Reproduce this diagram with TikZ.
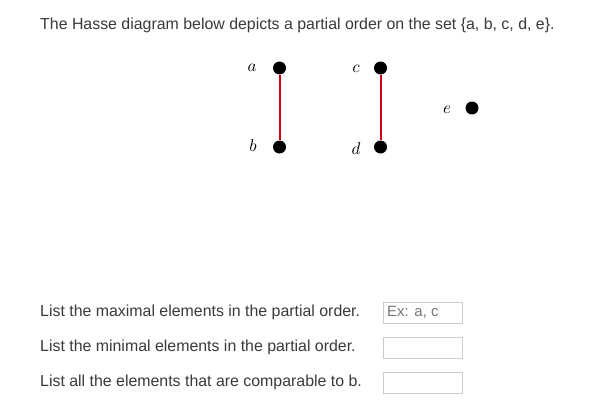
\documentclass[tikz,border=0pt]{standalone}
\usepackage{fontspec}
\setmainfont{Liberation Sans}
\definecolor{txt}{HTML}{3A3A3A}
\definecolor{edgered}{HTML}{D0021B}
\definecolor{boxgray}{HTML}{CCCCCC}
\definecolor{phgray}{HTML}{777777}
\newcommand{\vlab}[1]{\scalebox{1.7}{$#1$}}
\tikzset{
  vtx/.style={circle,fill=black,inner sep=0pt,minimum size=13pt},
  vlabel/.style={inner sep=0pt},
  rel/.style={edgered,line width=2pt},
  para/.style={anchor=west,inner sep=0pt,text=txt,font=\fontsize{15.9}{18}\selectfont},
  answer/.style={draw=boxgray,line width=1pt,minimum width=79pt,minimum height=21pt,inner sep=0pt,anchor=north west}
}
\begin{document}
\begin{tikzpicture}[x=1pt,y=-1pt]
\useasboundingbox[fill=white] (0,0) rectangle (601,401);
\node[para] (title) at (40,25) {The Hasse diagram below depicts a partial order on the set \{a, b, c, d, e\}.};
\node[vtx] (a) at (279.5,68) {};
\node[vtx] (b) at (279.5,147) {};
\node[vtx] (c) at (380.5,68) {};
\node[vtx] (d) at (380.5,147) {};
\node[vtx] (e) at (472,108) {};
\node[vlabel] (la) at (252,68) {\vlab{a}};
\node[vlabel] (lb) at (253,146) {\vlab{b}};
\node[vlabel] (lc) at (356,69) {\vlab{c}};
\node[vlabel] (ld) at (356,149) {\vlab{d}};
\node[vlabel] (le) at (447,110) {\vlab{e}};
\draw[rel] (a) -- (b);
\draw[rel] (c) -- (d);
\node[para] (q1) at (40,312) {List the maximal elements in the partial order.};
\node[para] (q2) at (40,347) {List the minimal elements in the partial order.};
\node[para] (q3) at (40,382) {List all the elements that are comparable to b.};
\node[answer] (r1) at (383,302) {};
\node[answer] (r2) at (383,337) {};
\node[answer] (r3) at (383,372) {};
\node[para,text=phgray,font=\fontsize{15}{18}\selectfont] (ph) at (387,312.5) {Ex: a, c};
\end{tikzpicture}
\end{document}
